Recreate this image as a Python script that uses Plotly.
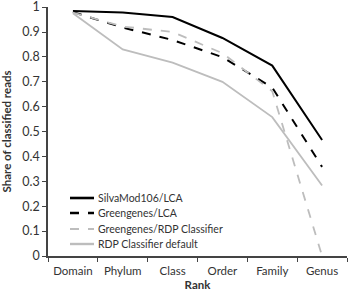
import plotly.graph_objects as go

ranks = ["Domain", "Phylum", "Class", "Order", "Family", "Genus"]
silva_lca = [0.984, 0.978, 0.96, 0.876, 0.765, 0.466]
gg_lca = [0.98, 0.918, 0.868, 0.799, 0.677, 0.358]
gg_rdp = [0.978, 0.922, 0.90, 0.815, 0.662, 0.0]
rdp_default = [0.975, 0.83, 0.777, 0.70, 0.558, 0.283]
y_ticks = [0, 0.1, 0.2, 0.3, 0.4, 0.5, 0.6, 0.7, 0.8, 0.9, 1]
y_tick_text = ["0", "0.1", "0.2", "0.3", "0.4", "0.5", "0.6", "0.7", "0.8", "0.9", "1"]

names = ["SilvaMod106/LCA", "Greengenes/LCA", "Greengenes/RDP Classifier", "RDP Classifier default"]
series = [silva_lca, gg_lca, gg_rdp, rdp_default]
colors = ["#000000", "#000000", "#bdbdbd", "#bdbdbd"]
dashes = ["solid", "dash", "dash", "solid"]
widths = [2, 2, 1.8, 1.8]

W, H = 353, 291
L, R, T, B = 48, 6, 7, 35
pw, ph = W - L - R, H - T - B

fig = go.Figure()
for n, s, c, d, w in zip(names, series, colors, dashes, widths):
    fig.add_trace(go.Scatter(x=ranks, y=s, mode="lines", name=n, showlegend=False,
                             line=dict(color=c, dash=d, width=w)))

# manual compact legend (paper coordinates)
font = "Lato, 'Open Sans', sans-serif"
leg_x0, leg_x1, leg_tx = 70, 94, 96
leg_rows = [198, 213, 229, 244]
for n, c, d, w, py in zip(names, colors, dashes, widths, leg_rows):
    yp = (H - B - py) / ph
    fig.add_shape(type="line", xref="paper", yref="paper",
                  x0=(leg_x0 - L) / pw, x1=(leg_x1 - L) / pw, y0=yp, y1=yp,
                  line=dict(color=c, dash=d, width=w + 0.6 if d == "solid" else w + 0.4))
    fig.add_annotation(xref="paper", yref="paper", x=(leg_tx - L) / pw, y=yp,
                       text=n, showarrow=False, xanchor="left", yanchor="middle",
                       font=dict(size=10.5, color="#333", family=font))

fig.update_layout(
    width=W, height=H,
    margin=dict(l=L, r=R, t=T, b=B, autoexpand=False),
    paper_bgcolor="white", plot_bgcolor="white",
    font=dict(family=font, size=12, color="#333"),
    showlegend=False,
    xaxis=dict(showline=True, linecolor="#444", linewidth=1.5, automargin=False,
               range=[-0.5, 5.5], tickangle=0, tickfont=dict(size=11.5),
               ticks="outside", tickson="boundaries", ticklen=4,
               ticklabelstandoff=3,
               tickcolor="#444", showgrid=False,
               title=dict(text="<b>Rank</b>", standoff=6, font=dict(size=11.5))),
    yaxis=dict(range=[0, 1.0005], showline=True, linecolor="#444", linewidth=1.5,
               automargin=False,
               tickmode="array", tickvals=y_ticks, ticktext=y_tick_text,
               ticklabeloverflow="allow", tickfont=dict(size=12.5),
               ticks="outside", ticklen=4, tickcolor="#444",
               showgrid=False, zeroline=False,
               title=dict(text="<b>Share of classified reads</b>", standoff=8,
                          font=dict(size=11.5))),
)
fig.write_html("out.html")
